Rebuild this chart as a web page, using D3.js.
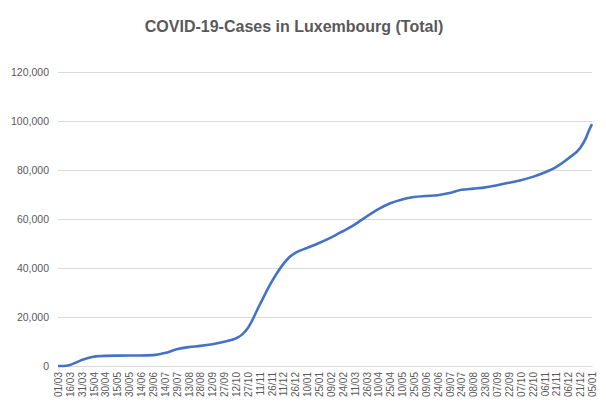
<!DOCTYPE html>
<html>
<head>
<meta charset="utf-8">
<script src="https://d3js.org/d3.v7.min.js"></script>
<style>
  body { margin: 0; background: #fff; }
  .grid line { stroke: #d9d9d9; stroke-width: 1; shape-rendering: crispEdges; }
  .tick text { fill: #595959; font-family: "Liberation Sans", Arial, sans-serif; }
</style>
</head>
<body>
<svg id="chart" width="606" height="411"></svg>
<script>
// cumulative cases
var dates = [
  "2020-03-01","2020-03-08","2020-03-16","2020-03-23","2020-03-31","2020-04-08","2020-04-15",
  "2020-04-30","2020-05-15","2020-05-30","2020-06-14","2020-06-29","2020-07-14","2020-07-29",
  "2020-08-13","2020-08-28","2020-09-12","2020-09-27","2020-10-12","2020-10-20","2020-10-27",
  "2020-11-11","2020-11-26","2020-12-11","2020-12-18","2020-12-26","2021-01-10","2021-01-25",
  "2021-02-09","2021-02-24","2021-03-11","2021-03-26","2021-04-10","2021-04-25","2021-05-10",
  "2021-05-25","2021-06-09","2021-06-24","2021-07-09","2021-07-24","2021-08-08","2021-08-23",
  "2021-09-07","2021-09-22","2021-10-07","2021-10-22","2021-11-06","2021-11-21","2021-12-06",
  "2021-12-21","2021-12-28","2022-01-01","2022-01-05"
];
var totals = [
  0, 20, 400, 1300, 2450, 3300, 3800,
  4150, 4250, 4300, 4300, 4450, 5300, 6800,
  7700, 8200, 8900, 9900, 11300, 12900, 15500,
  25000, 34300, 41700, 44300, 46200, 48200, 50200,
  52400, 55000, 57700, 61000, 64000, 66400, 68000,
  69000, 69400, 69700, 70600, 71900, 72400, 72900,
  73800, 74800, 75800, 77200, 79000, 81300, 84700,
  89000, 92800, 96000, 98700
];
var xTickLabels = [
  "01/03","16/03","31/03","15/04","30/04","15/05","30/05","14/06","29/06","14/07",
  "29/07","13/08","28/08","12/09","27/09","12/10","27/10","11/11","26/11","11/12",
  "26/12","10/01","25/01","09/02","24/02","11/03","26/03","10/04","25/04","10/05",
  "25/05","09/06","24/06","09/07","24/07","08/08","23/08","07/09","22/09","07/10",
  "22/10","06/11","21/11","06/12","21/12","05/01"
];
var yTicks = [0, 20000, 40000, 60000, 80000, 100000, 120000];

var svg = d3.select("#chart");
var plotL = 58, plotR = 592, plotT = 72, plotB = 366;

var parse = d3.timeParse("%Y-%m-%d");
var data = dates.map(function (d, i) { return { date: parse(d), value: totals[i] }; });
var start = data[0].date, end = data[data.length - 1].date;

var x = d3.scaleTime().domain([start, end]).range([plotL, plotR]);
var y = d3.scaleLinear().domain([0, 120000]).range([plotB, plotT]);

// gridlines + y labels
var yAxis = d3.axisLeft(y).tickValues(yTicks).tickSize(-(plotR - plotL)).tickPadding(9)
  .tickFormat(d3.format(","));
svg.append("g").attr("class", "grid").attr("transform", "translate(" + plotL + ",0)")
  .call(yAxis)
  .call(function (g) { g.select(".domain").remove(); })
  .selectAll("text").style("font-size", "10.5px");

// x axis, one label every 15 days
var tickDates = xTickLabels.map(function (t, i) { return d3.timeDay.offset(start, 15 * i); });
var xAxis = d3.axisBottom(x).tickValues(tickDates).tickSize(0)
  .tickFormat(function (d, i) { return xTickLabels[i]; });
var gx = svg.append("g").attr("transform", "translate(0," + plotB + ")").call(xAxis);
gx.select(".domain").attr("stroke", "#d9d9d9");
gx.selectAll("text")
  .style("font-size", "10px")
  .attr("text-anchor", "end")
  .attr("transform", "rotate(-90)")
  .attr("x", -6).attr("y", 0).attr("dy", "0.35em");

// the line
var line = d3.line()
  .x(function (d) { return x(d.date); })
  .y(function (d) { return y(d.value); })
  .curve(d3.curveMonotoneX);
svg.append("path").datum(data)
  .attr("fill", "none")
  .attr("stroke", "#4472c4")
  .attr("stroke-width", 2.6)
  .attr("stroke-linejoin", "round")
  .attr("d", line);

svg.append("text")
  .attr("x", 294).attr("y", 32)
  .attr("text-anchor", "middle")
  .style("font-family", "'Liberation Sans', Arial, sans-serif")
  .style("font-size", "16px")
  .style("font-weight", "bold")
  .style("fill", "#595959")
  .text("COVID-19-Cases in Luxembourg (Total)");
</script>
</body>
</html>
